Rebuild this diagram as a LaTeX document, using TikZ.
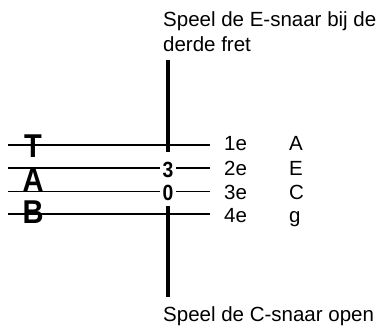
\documentclass[tikz,border=0pt]{standalone}
\usepackage{fontspec}
\setmainfont{Liberation Sans}
\newfontfamily\condfont[FakeStretch=0.88]{Liberation Sans}
\usepackage{tikz}
\usetikzlibrary{positioning}

\tikzset{
	snaar/.style={line width=1.3pt},
	fretbar/.style={line width=4.5pt},
	tabletter/.style={font=\condfont\bfseries\fontsize{33}{33}\selectfont, inner sep=0pt},
	fretnum/.style={font=\condfont\bfseries\fontsize{22}{22}\selectfont, fill=white, inner xsep=3pt, inner ysep=0pt},
	label/.style={font=\fontsize{20.5}{24}\selectfont, anchor=base west, inner sep=0pt}
}

\begin{document}
\begin{tikzpicture}[x=1pt,y=-1pt]
		\useasboundingbox (0,0) rectangle (382,329);
		% staff lines
		\foreach \i/\y in {1/145,2/168,3/191.5,4/214} {
			\coordinate (l\i) at (8,\y);
			\coordinate (r\i) at (210,\y);
			\draw[snaar] (l\i) -- (r\i);
		}
		% fret bar
		\coordinate (bartop) at (168,60);
		\coordinate (barmid) at (168,152);
		\coordinate (barlow) at (168,206);
		\coordinate (barend) at (168,297);
		\draw[fretbar] (bartop) -- (barmid);
		\draw[fretbar] (barlow) -- (barend);
		% TAB
		\node[tabletter] (T) at (33,146.5) {T};
		\node[tabletter] (A) at (33,180.5) {A};
		\node[tabletter] (B) at (33,212) {B};
		% fret numbers
		\node[fretnum] (drie) at (168,169.5) {3};
		\node[fretnum] (nul) at (168,193) {0};
		% string names
		\node[label] (s1) at (224,150.5) {1e};
		\node[label] (s2) at (224,175) {2e};
		\node[label] (s3) at (224,199.5) {3e};
		\node[label] (s4) at (224,222.5) {4e};
		\node[label] (n1) at (289,150.5) {A};
		\node[label] (n2) at (289,175) {E};
		\node[label] (n3) at (289,199.5) {C};
		\node[label] (n4) at (289,222.5) {g};
		% remarks
		\node[label] (boven) at (163,27) {Speel de E-snaar bij de};
		\node[label] (boven2) at (163,52) {derde fret};
		\node[label] (onder) at (163,321) {Speel de C-snaar open};
		\end{tikzpicture}
\end{document}
